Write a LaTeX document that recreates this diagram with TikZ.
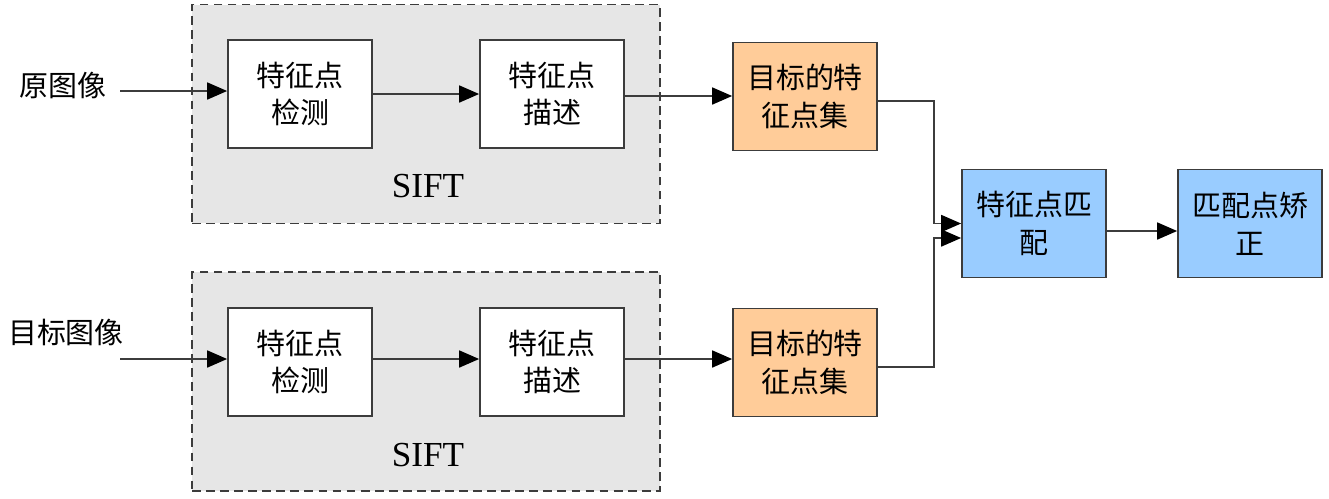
\documentclass[tikz,border=0pt]{standalone}
\usepackage{fontspec}
\setmainfont{Liberation Serif}
\newfontfamily\cjk{Noto Sans CJK SC}
\usetikzlibrary{arrows.meta}
\definecolor{siftgray}{RGB}{230, 230, 230}
\definecolor{setorange}{RGB}{255, 204, 153}
\definecolor{matchblue}{RGB}{153, 204, 255}
\definecolor{linegray}{RGB}{60, 60, 60}

\begin{document}
\begin{tikzpicture}[x=0.02cm, y=-0.02cm,
    stage/.style={draw=linegray, line width=1pt, fill=white, minimum width=2.88cm,
        minimum height=2.16cm, inner sep=0pt, align=center,
        font=\cjk\fontsize{16.5}{21.5}\selectfont},
    siftbox/.style={draw=linegray, line width=0.9pt, dash pattern=on 5pt off 3pt,
        fill=siftgray, minimum width=9.36cm, minimum height=4.38cm},
    caption/.style={font=\cjk\fontsize{16.5}{21.5}\selectfont},
    flow/.style={draw=linegray, line width=1pt,
        -{Triangle[length=0.4cm, width=0.34cm, color=black, fill=black]}}]
    \useasboundingbox (0,0) rectangle (1329,498);

    % SIFT regions
    \node[siftbox] (sift1) at (426,114) {};
    \node[siftbox] (sift2) at (426,381.5) {};
    \node[font=\fontsize{20}{24}\selectfont] (siftlab1) at (428,186) {SIFT};
    \node[font=\fontsize{20}{24}\selectfont] (siftlab2) at (428,455) {SIFT};

    % Upper branch
    \node[caption] (src) at (63,85) {原图像};
    \coordinate (in1) at (120,91);
    \node[stage] (det1) at (300,94) {特征点\\检测};
    \node[stage] (desc1) at (552,94) {特征点\\描述};
    \node[stage, fill=setorange] (set1) at (805,96.5) {目标的特\\征点集};

    % Lower branch
    \node[caption] (tgt) at (66,332) {目标图像};
    \coordinate (in2) at (120,359);
    \node[stage] (det2) at (300,362) {特征点\\检测};
    \node[stage] (desc2) at (552,362) {特征点\\描述};
    \node[stage, fill=setorange] (set2) at (805,362.5) {目标的特\\征点集};

    % Matching
    \node[stage, fill=matchblue] (match) at (1034,223.5) {特征点匹\\配};
    \node[stage, fill=matchblue] (rect) at (1250,223.5) {匹配点矫\\正};

    % Connectors
    \draw[flow] (in1) -- (in1 -| det1.west);
    \draw[flow] (det1) -- (desc1);
    \draw[flow] ([yshift=-0.04cm]desc1.east) -- ([yshift=-0.04cm]desc1.east -| set1.west);
    \draw[flow] (in2) -- (in2 -| det2.west);
    \draw[flow] ([yshift=0.06cm]det2.east) -- ([yshift=0.06cm]desc2.west);
    \draw[flow] ([yshift=0.06cm]desc2.east) -- ([yshift=0.06cm]desc2.east -| set2.west);
    \draw[flow] ([yshift=-0.09cm]set1.east) -- ++(56,0) |- (match.west);
    \draw[flow] ([yshift=-0.09cm]set2.east) -- ++(56,0) |- ([yshift=-0.29cm]match.west);
    \draw[flow] ([yshift=-0.15cm]match.east) -- ([yshift=-0.15cm]rect.west);
\end{tikzpicture}
\end{document}
